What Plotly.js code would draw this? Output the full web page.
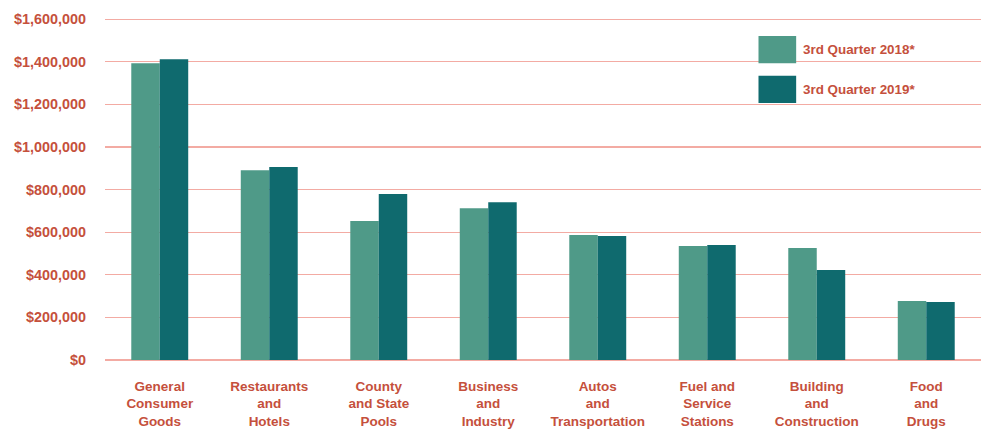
<!DOCTYPE html>
<html><head><meta charset="utf-8">
<script src="https://cdn.plot.ly/plotly-3.0.1.min.js"></script>
<style>html,body{margin:0;padding:0;background:#fff}#chart{width:985px;height:430px}</style>
</head><body><div id="chart"></div>
<script>
const categories = ["General<br>Consumer<br>Goods","Restaurants<br>and<br>Hotels","County<br>and State<br>Pools","Business<br>and<br>Industry","Autos<br>and<br>Transportation","Fuel and<br>Service<br>Stations","Building<br>and<br>Construction","Food<br>and<br>Drugs"];
const q3_2018 = [1393000, 891000, 652000, 713000, 587000, 535000, 526000, 277000];
const q3_2019 = [1412000, 906000, 779000, 741000, 582000, 540000, 422000, 272000];
const seriesNames = ["3rd Quarter 2018*", "3rd Quarter 2019*"];
const colors = ["#4f9a88", "#0f6a6e"];
const tickVals = [0,200000,400000,600000,800000,1000000,1200000,1400000,1600000];
const tickText = ["$0","$200,000","$400,000","$600,000","$800,000","$1,000,000","$1,200,000","$1,400,000","$1,600,000"];

const red = "#c5503c";
const fam = "Liberation Sans, Arial, sans-serif";
const traces = [
  {type:"bar", x:categories, y:q3_2018, name:seriesNames[0], marker:{color:colors[0]}},
  {type:"bar", x:categories, y:q3_2019, name:seriesNames[1], marker:{color:colors[1]}}
];
const layout = {
  width:985, height:430,
  margin:{l:105, r:4, t:16, b:70},
  paper_bgcolor:"#fff", plot_bgcolor:"#fff",
  barmode:"group", bargap:0.48, bargroupgap:0,
  showlegend:false,
  font:{family:fam, size:13, color:red},
  xaxis:{type:"category", showgrid:false, zeroline:false, showline:false, ticks:"",
         tickfont:{family:fam, size:13.5, color:red, weight:700}, ticklabelstandoff:16},
  yaxis:{range:[0,1615000], tickvals:tickVals, ticktext:tickText, showgrid:true,
         gridcolor:"#f3aba3", gridwidth:1.3, zeroline:true, zerolinecolor:"#f3aba3", zerolinewidth:1.3,
         showline:false, ticks:"", ticklabelstandoff:18,
         tickfont:{family:fam, size:14.4, color:red, weight:700}},
  shapes:[
    {type:"rect", xref:"paper", yref:"paper", x0:0.746, x1:0.789, y0:0.863, y1:0.942, fillcolor:colors[0], line:{width:0}},
    {type:"rect", xref:"paper", yref:"paper", x0:0.746, x1:0.789, y0:0.747, y1:0.826, fillcolor:colors[1], line:{width:0}}
  ],
  annotations:[
    {xref:"paper", yref:"paper", x:0.795, y:0.903, xanchor:"left", yanchor:"middle", text:seriesNames[0], showarrow:false,
     font:{family:fam, size:13.4, color:red, weight:700}},
    {xref:"paper", yref:"paper", x:0.795, y:0.786, xanchor:"left", yanchor:"middle", text:seriesNames[1], showarrow:false,
     font:{family:fam, size:13.4, color:red, weight:700}}
  ]
};
Plotly.newPlot("chart", traces, layout, {displayModeBar:false, staticPlot:true});
</script></body></html>
